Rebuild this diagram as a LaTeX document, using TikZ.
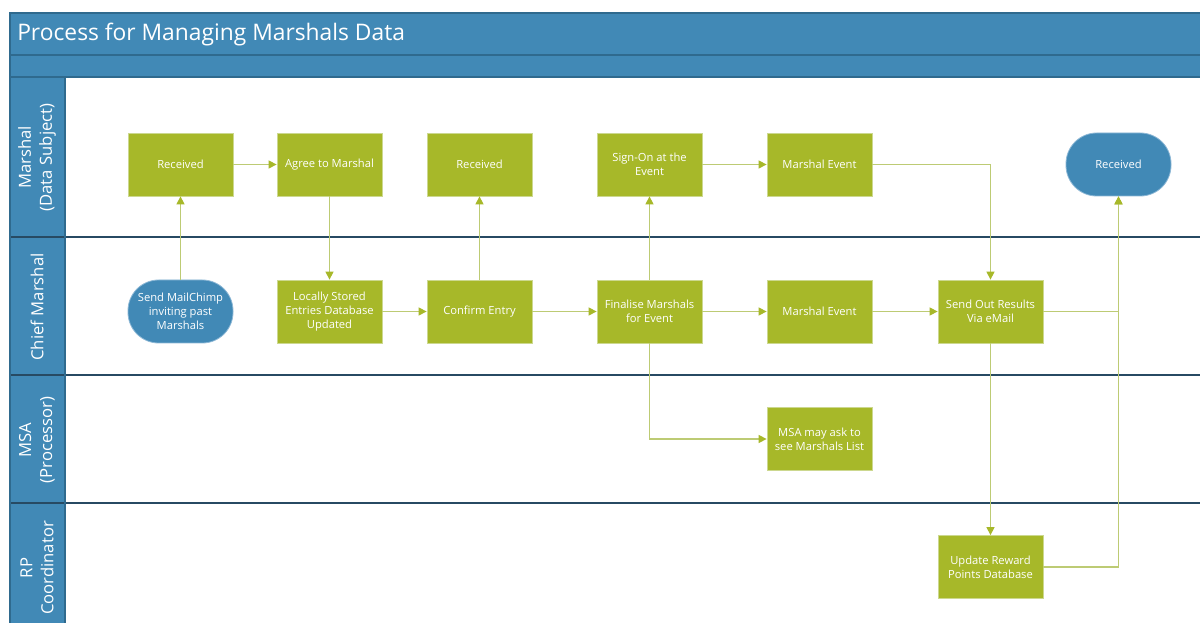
\documentclass[tikz,border=0pt]{standalone}
\usepackage{fontspec}
\setmainfont{Open Sans}
\usetikzlibrary{arrows.meta}
\definecolor{hdr}{HTML}{4189B6}
\definecolor{hdrline}{HTML}{2F6A8E}
\definecolor{laneline}{HTML}{274A63}
\definecolor{grn}{HTML}{A7B829}
\definecolor{grnline}{HTML}{BDCB74}
\definecolor{grnedge}{HTML}{CCD88F}
\definecolor{bluedge}{HTML}{8DB8D6}
\begin{document}
\begin{tikzpicture}[x=0.75pt,y=-0.75pt,
  proc/.style={rectangle, fill=grn, draw=grnedge, line width=0.6pt,
    minimum width=78.75pt, minimum height=47.25pt, text=white,
    font=\fontsize{8.4}{10.5}\selectfont, align=center, inner sep=1pt},
  term/.style={proc, fill=hdr, draw=bluedge, rounded corners=23pt},
  conn/.style={draw=grnline, line width=1pt, -{Triangle[length=6pt,width=6pt,color=grn]}},
  lanelbl/.style={text=white, rotate=90, align=center,
    font=\fontsize{12.5}{15.75}\selectfont, inner sep=0pt},
  sep/.style={draw=laneline, line width=1.1pt}]
\useasboundingbox (0,0) rectangle (1200,623);
\fill[white] (0,0) rectangle (1200,623);
% header bars
\fill[hdr] (10,13) rectangle (1200,77);
\fill[hdr] (10,77) rectangle (65,623);
% lane separators
\draw[sep] (10,237) -- (1200,237);
\draw[sep] (10,375) -- (1200,375);
\draw[sep] (10,503) -- (1200,503);
% header outlines
\draw[hdrline, line width=1pt] (1200,13) -- (10,13) -- (10,623);
\draw[hdrline, line width=1pt] (10,55) -- (1200,55);
\draw[hdrline, line width=1pt] (10,77) -- (1200,77);
\draw[hdrline, line width=1pt] (65,77) -- (65,623);
\node[anchor=west, text=white, font=\fontsize{17.1}{20}\selectfont, inner sep=0pt] (title) at (17,35) {Process for Managing Marshals Data};
% lane labels
\node[lanelbl] (l1) at (37,157.5) {Marshal\\(Data Subject)};
\node[lanelbl] (l2) at (37,307) {Chief Marshal};
\node[lanelbl] (l3) at (37,440) {MSA\\(Processor)};
\node[lanelbl] (l4) at (37,568) {RP\\Coordinator};
% nodes
\node[proc] (r1) at (180.5,164.5) {Received};
\node[proc] (agree) at (329.5,164.5) {Agree to Marshal};
\node[proc] (r2) at (479.5,164.5) {Received};
\node[proc] (signon) at (649.5,164.5) {Sign-On at the\\Event};
\node[proc] (mev1) at (819.5,164.5) {Marshal Event};
\node[term] (recv) at (1118.5,164.5) {Received};
\node[term] (mail) at (180.5,311.5) {Send MailChimp\\inviting past\\Marshals};
\node[proc] (local) at (329.5,311.5) {Locally Stored\\Entries Database\\Updated};
\node[proc] (confirm) at (479.5,311.5) {Confirm Entry};
\node[proc] (final) at (649.5,311.5) {Finalise Marshals\\for Event};
\node[proc] (mev2) at (819.5,311.5) {Marshal Event};
\node[proc] (send) at (990.5,311.5) {Send Out Results\\Via eMail};
\node[proc] (msa) at (819.5,439) {MSA may ask to\\see Marshals List};
\node[proc] (upd) at (990.5,567) {Update Reward\\Points Database};
% connectors
\draw[conn] (mail) -- (r1);
\draw[conn] (r1) -- (agree);
\draw[conn] (agree) -- (local);
\draw[conn] (local) -- (confirm);
\draw[conn] (confirm) -- (r2);
\draw[conn] (confirm) -- (final);
\draw[conn] (final) -- (signon);
\draw[conn] (signon) -- (mev1);
\draw[conn] (final) -- (mev2);
\draw[conn] (final) |- (msa);
\draw[conn] (mev1) -| (send);
\draw[conn] (mev2) -- (send);
\draw[conn] (send) -- (upd);
\draw[conn] (send) -| (recv);
\draw[conn] (upd) -| (recv);
\end{tikzpicture}
\end{document}
